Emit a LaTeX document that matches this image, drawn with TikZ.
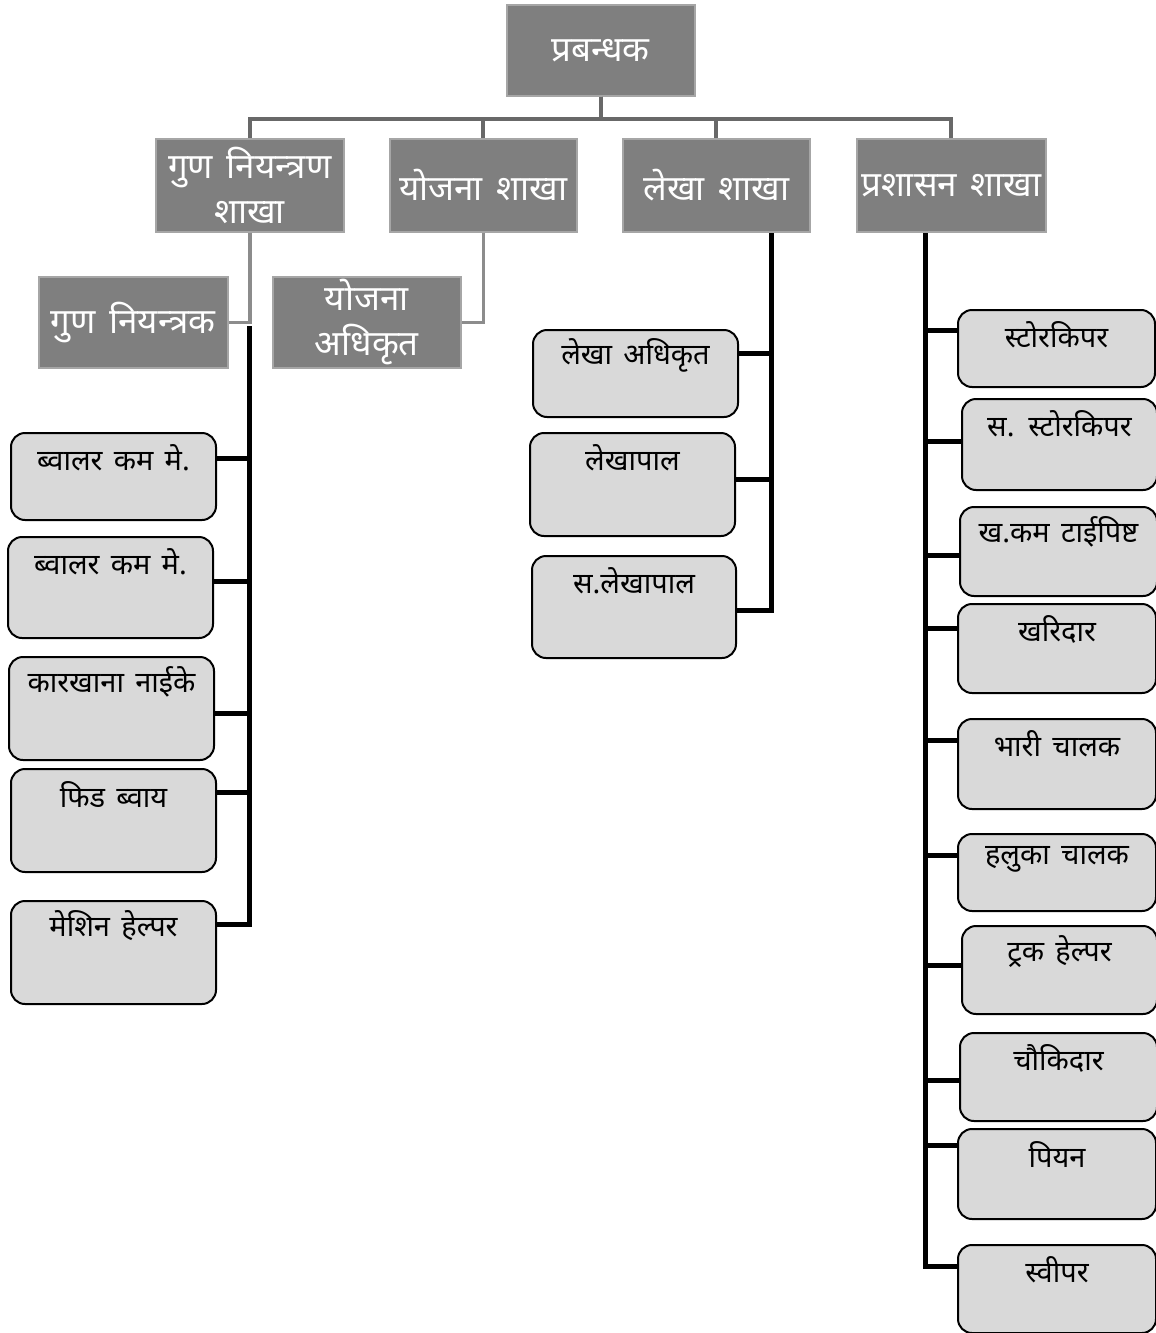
\documentclass[tikz,border=0pt]{standalone}
\usepackage{fontspec}
\newfontfamily\devfont[Script=Devanagari, WordSpace=1.5]{Noto Sans}
\definecolor{headgray}{HTML}{7F7F7F}
\definecolor{rimgray}{HTML}{A6A6A6}
\definecolor{treegray}{HTML}{686868}
\definecolor{twiggray}{HTML}{8C8C8C}
\definecolor{leafgray}{HTML}{D9D9D9}

\begin{document}
\begin{tikzpicture}[x=1pt,y=-1pt,
  head/.style={anchor=north west, fill=headgray, draw=rimgray, line width=1.5pt, text=white, align=center, inner sep=0pt, font=\devfont\fontsize{35}{45}\selectfont},
  leaf/.style={anchor=north west, fill=leafgray, draw=black, line width=2pt, rounded corners=14pt, inner sep=0pt},
  leaftext/.style={anchor=center, yshift=-26pt, font=\devfont\fontsize{29}{32}\selectfont},
  tree/.style={draw=treegray, line width=4pt},
  twig/.style={draw=twiggray, line width=3.5pt},
  stem/.style={draw=black, line width=5pt}]
\useasboundingbox (0,0) rectangle (1156,1333);

% top and branches
\draw (506,4)   node (boss)   [head, minimum width=188pt, minimum height=91pt] {प्रबन्धक};
\draw (155,138) node (gun)    [head, minimum width=188pt, minimum height=93pt] {गुण नियन्त्रण\\शाखा};
\draw (389,138) node (yoj)    [head, minimum width=187pt, minimum height=93pt] {योजना शाखा};
\draw (622,138) node (lek)    [head, minimum width=187pt, minimum height=93pt] {लेखा शाखा};
\draw (856,138) node (pra)    [head, minimum width=189pt, minimum height=93pt] {प्रशासन शाखा};
\draw (38,276)  node (gunn)   [head, minimum width=189pt, minimum height=91pt] {गुण नियन्त्रक};
\draw (272,276) node (yojadh) [head, minimum width=188pt, minimum height=91pt] {योजना\\अधिकृत};

\foreach \b in {gun,yoj,lek,pra}
  \draw[tree] (boss.south) -- ++(0,22) -| (\b.north);
\draw[twig] (gun.south) |- (gunn.east);
\draw[twig] (yoj.south) |- (yojadh.east);

% quality control
\draw (10,432) node (bkm1) [leaf, minimum width=205pt, minimum height=87pt,  label={[leaftext]north:ब्वालर कम मे.}] {};
\draw (7,536)  node (bkm2) [leaf, minimum width=205pt, minimum height=101pt, label={[leaftext]north:ब्वालर कम मे.}] {};
\draw (8,656)  node (kn)   [leaf, minimum width=205pt, minimum height=103pt, label={[leaftext]north:कारखाना नाईके}] {};
\draw (10,768) node (fb)   [leaf, minimum width=205pt, minimum height=103pt, label={[leaftext]north:फिड ब्वाय}] {};
\draw (10,900) node (mh)   [leaf, minimum width=205pt, minimum height=103pt, label={[leaftext]north:मेशिन हेल्पर}] {};

\coordinate (gtop) at (249,326);
\draw[stem] (gtop) |- (mh.east |- 0,924);
\foreach \n/\y in {bkm1/458, bkm2/581, kn/713, fb/792}
  \draw[stem] (\n.east |- 0,\y) -- (gtop |- 0,\y);

% accounts
\draw (532,329) node (la) [leaf, minimum width=205pt, minimum height=87pt,  label={[leaftext]north:लेखा अधिकृत}] {};
\draw (529,432) node (lp) [leaf, minimum width=205pt, minimum height=103pt, label={[leaftext]north:लेखापाल}] {};
\draw (531,555) node (sl) [leaf, minimum width=204pt, minimum height=102pt, label={[leaftext]north:स.लेखापाल}] {};

\coordinate (ltop) at (771,233);
\draw[stem] (ltop) |- (sl.east |- 0,610);
\foreach \n/\y in {la/353, lp/479}
  \draw[stem] (\n.east |- 0,\y) -- (ltop |- 0,\y);

% administration
\draw (957,309)  node (sk)  [leaf, minimum width=197pt, minimum height=77pt, label={[leaftext]north:स्टोरकिपर}] {};
\draw (961,398)  node (ssk) [leaf, minimum width=195pt, minimum height=91pt, label={[leaftext]north:स. स्टोरकिपर}] {};
\draw (959,506)  node (tp)  [leaf, minimum width=197pt, minimum height=89pt, label={[leaftext]north:ख.कम टाईपिष्ट}] {};
\draw (957,603)  node (kh)  [leaf, minimum width=198pt, minimum height=89pt, label={[leaftext]north:खरिदार}] {};
\draw (957,718)  node (bc)  [leaf, minimum width=198pt, minimum height=90pt, label={[leaftext]north:भारी चालक}] {};
\draw (957,833)  node (hc)  [leaf, minimum width=198pt, minimum height=77pt, label={[leaftext]north:हलुका चालक}] {};
\draw (961,925)  node (th)  [leaf, minimum width=195pt, minimum height=88pt, label={[leaftext]north:ट्रक हेल्पर}] {};
\draw (959,1032) node (ck)  [leaf, minimum width=197pt, minimum height=88pt, label={[leaftext]north:चौकिदार}] {};
\draw (957,1128) node (py)  [leaf, minimum width=198pt, minimum height=90pt, label={[leaftext]north:पियन}] {};
\draw (957,1244) node (sw)  [leaf, minimum width=198pt, minimum height=88pt, label={[leaftext]north:स्वीपर}] {};

\coordinate (ptop) at (925,233);
\draw[stem] (ptop) |- (sw.west |- 0,1266);
\foreach \n/\y in {sk/330, ssk/441, tp/555, kh/628, bc/740, hc/855, th/965, ck/1080, py/1145}
  \draw[stem] (\n.west |- 0,\y) -- (ptop |- 0,\y);
\end{tikzpicture}
\end{document}
